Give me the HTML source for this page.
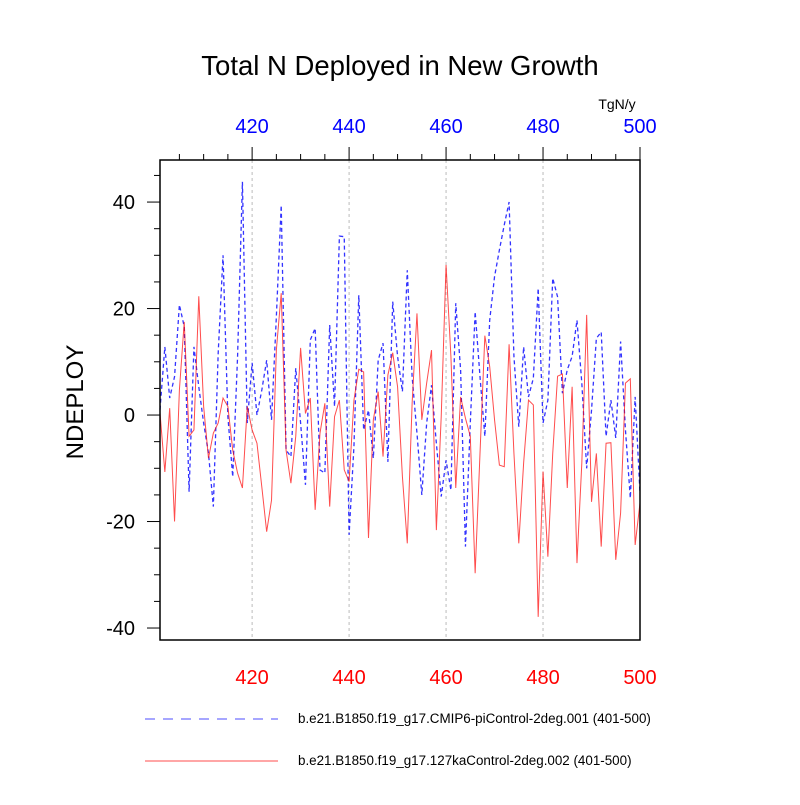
<!DOCTYPE html>
<html><head><meta charset="utf-8"><style>
html,body{margin:0;padding:0;background:#fff;}
svg text{font-family:"Liberation Sans",sans-serif;}
</style></head><body>
<svg id="chart" width="800" height="800" xmlns="http://www.w3.org/2000/svg">
<rect width="800" height="800" fill="#fff"/>
<text x="400" y="75" font-size="27.5" text-anchor="middle">Total N Deployed in New Growth</text>
<text x="617" y="109" font-size="14" text-anchor="middle">TgN/y</text>
<text transform="translate(83,402) rotate(-90)" font-size="24" text-anchor="middle">NDEPLOY</text>
<g id="grid"></g><g id="series"></g><g id="axes"></g>
<rect x="160" y="160" width="480" height="480" fill="none" stroke="#000" stroke-width="1.5"/>
<line x1="145" y1="719" x2="278" y2="719" stroke="#0000ff" stroke-opacity="0.7" stroke-dasharray="10,8"/>
<text x="298" y="723" font-size="13.4">b.e21.B1850.f19_g17.CMIP6-piControl-2deg.001 (401-500)</text>
<line x1="145" y1="761" x2="278" y2="761" stroke="#ff0000" stroke-opacity="0.7"/>
<text x="298" y="765" font-size="13.4">b.e21.B1850.f19_g17.127kaControl-2deg.002 (401-500)</text>
</svg>
<script>
const years = Array.from({length:100},(_,i)=>401+i);
const blueValues = [1,12.8,3.2,7.2,20.7,16.6,-14.4,12.8,5.3,-1.5,-7.2,-17.2,11.6,30,-0.3,-11.6,11,43.8,-1.5,9.8,0,4.7,10.3,-0.9,18.5,39.4,-6.6,-7.8,8.8,-1.5,-13.1,14.1,16.3,-10.3,-10.9,16.9,1.6,33.6,33.5,-22.5,-5.9,22.5,-2.8,0.9,-8.1,10.3,13.5,-8.8,21.3,11,4.4,27.2,7.2,-3.4,-15,-1.5,5.6,-5.3,-15.3,-8.5,-14.1,21,8.5,-24.7,-1.5,19.4,7.2,-4,17.8,26,31,35.7,40,11,-2.2,12.8,3.4,6.9,23.8,-1.5,2.8,25.7,22.2,4.1,8.5,11,17.8,6,-10,0.9,14.4,15.6,-4,2.8,-4.3,13.8,-2.8,-15.6,3.4,-14.7];
const redValues = [0.4,-10.7,1.3,-20,4.7,17.5,-4,-2.8,22.3,1.6,-8.1,-3.4,-1.5,3.2,1.6,-6.6,-10.9,-13.7,1.6,-2.8,-5.3,-13.5,-21.9,-16,12.2,22.9,-6.6,-12.8,-4,12.6,0.3,3.2,-17.8,-3.4,2.2,-17.2,-0.3,2.8,-10.3,-12.5,2.8,8.6,8.1,-23.1,-0.9,4.4,-7.8,7.5,11.7,5.3,-11.6,-24.1,2.2,19.1,-0.9,6,12.2,-21.6,-0.3,28.2,11,-13.7,3.4,-0.6,-4,-29.7,-7.2,14.9,9.1,-0.9,-9.4,-9.7,13.3,-7.2,-24.1,-9,2.8,1.9,-37.9,-10.6,-26.6,-7.2,7.3,7.7,-13.7,5.3,-27.8,-9,18.8,-16.3,-7.2,-24.7,-5.3,-5.2,-27.2,-18.4,6,6.8,-24.4,-16.5];
const xTicks = [420,440,460,480,500];
const yTicks = [-40,-20,0,20,40];
const NS='http://www.w3.org/2000/svg';
const X0=160,X1=640,Y0=160,Y1=640;
const xMin=401,xMax=500,yMin=-42.25,yMax=47.9;
function sx(v){return X0+(v-xMin)/(xMax-xMin)*(X1-X0);}
function sy(v){return Y1-(v-yMin)/(yMax-yMin)*(Y1-Y0);}
function mk(tag,attrs,parent){const e=document.createElementNS(NS,tag);for(const k in attrs)e.setAttribute(k,attrs[k]);parent.appendChild(e);return e;}
const grid=document.getElementById('grid'),axes=document.getElementById('axes'),ser=document.getElementById('series');
xTicks.forEach(t=>{
  if(t<xMax){const g=mk('line',{x1:sx(t),x2:sx(t),y1:Y0,y2:Y1,stroke:'#bbb','stroke-dasharray':'3,3'},grid);
  
  }
  const tk=mk('line',{x1:sx(t),x2:sx(t),y1:Y0,y2:Y0-13,stroke:'#000'},axes);
  
  
  const tb=mk('text',{x:sx(t),y:133,'font-size':20,'text-anchor':'middle',fill:'#0000ff'},axes);tb.textContent=t;
  
  
  const bb=mk('text',{x:sx(t),y:684,'font-size':20,'text-anchor':'middle',fill:'#ff0000'},axes);bb.textContent=t;
  
  
});
for(let t=405;t<=500;t+=5){if(t%20===0)continue;const m=mk('line',{x1:sx(t),x2:sx(t),y1:Y0,y2:Y0-6,stroke:'#000'},axes);
  
  }
yTicks.forEach(t=>{
  const tk=mk('line',{x1:X0,x2:X0-13,y1:sy(t),y2:sy(t),stroke:'#000'},axes);
  
  
  const lb=mk('text',{x:135,y:sy(t)+7,'font-size':20,'text-anchor':'end'},axes);lb.textContent=t;
  
  
});
for(let t=-40;t<=45;t+=5){if(t%20===0)continue;const m=mk('line',{x1:X0,x2:X0-6,y1:sy(t),y2:sy(t),stroke:'#000'},axes);
  
  }
const bp=mk('polyline',{points:years.map((y,i)=>sx(y)+','+sy(blueValues[i])).join(' '),fill:'none',stroke:'#0000ff','stroke-opacity':0.8,'stroke-width':1.3,'stroke-dasharray':'4,3'},ser);


const rp=mk('polyline',{points:years.map((y,i)=>sx(y)+','+sy(redValues[i])).join(' '),fill:'none',stroke:'#ff0000','stroke-opacity':0.7,'stroke-width':1},ser);


</script>
</body></html>
